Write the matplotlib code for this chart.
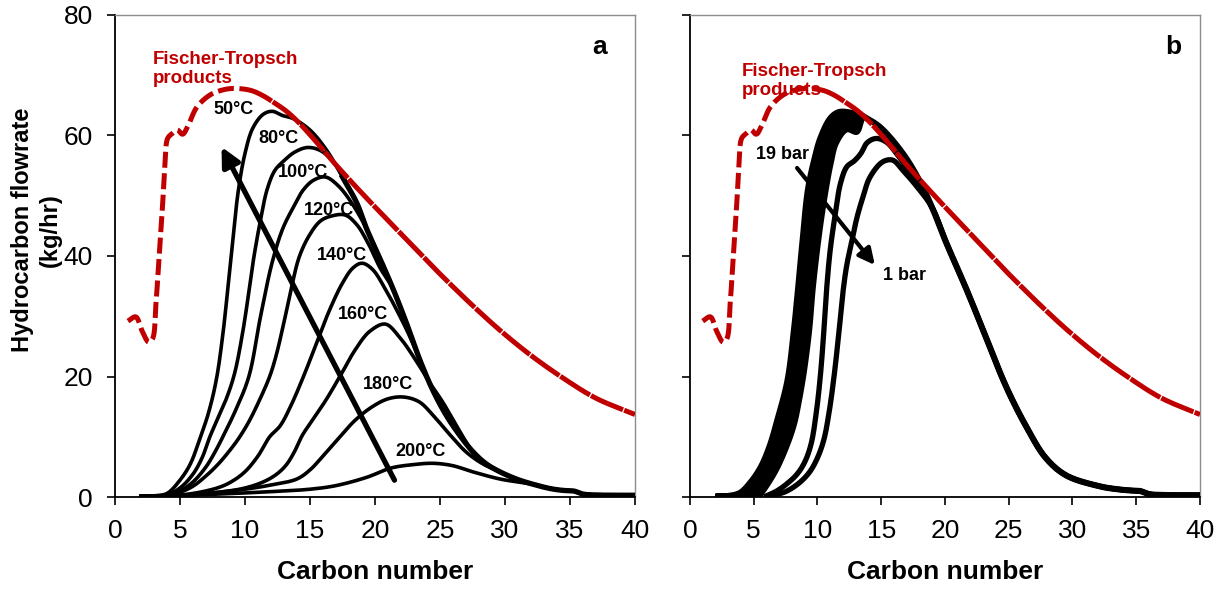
import numpy as np
import matplotlib
matplotlib.use("Agg")
import matplotlib.pyplot as plt
from matplotlib.patches import Polygon

plt.rcParams['font.family'] = ['Liberation Sans', 'DejaVu Sans']

RED = '#C00000'

# Fischer-Tropsch product curve (same in both panels)
ft_x = [1.0, 1.6, 2.1, 2.6, 2.9, 3.15, 3.4, 3.65, 3.85, 4.05, 4.4, 4.8, 5.2, 5.6,
        6.3, 7.3, 8.2, 9.1, 10.4, 11.3, 12.2, 13.2, 14.2, 15.5, 16.8, 18.1, 19.4,
        20.6, 21.9, 23.2, 24.5, 26.0, 27.5, 29.6, 32.0, 34.5, 37.0, 40.0]
ft_y = [29.2, 29.9, 27.5, 25.7, 26.3, 32.0, 40.0, 48.0, 55.0, 59.5, 60.3, 60.9, 60.2, 61.5,
        64.7, 66.7, 67.5, 67.8, 67.5, 66.7, 65.5, 64.0, 62.0, 58.9, 55.6, 52.5, 49.5,
        46.8, 43.9, 41.0, 38.1, 34.9, 31.8, 27.7, 23.5, 19.7, 16.4, 13.7]

# ---- panel a: temperature series (rising part), common falling tail ----
env_x = [17.5, 18.6, 19.4, 20.4, 21.4, 22.4, 23.5, 24.5, 25.5, 26.5, 27.5, 28.5,
         29.6, 31.0, 32.2, 33.5, 34.5, 35.3, 36.0, 37.0, 40.0]
env_y = [53.1, 48.8, 44.3, 39.5, 34.5, 29.0, 22.5, 17.5, 13.5, 10.3, 7.6, 5.6,
         4.2, 2.9, 2.1, 1.4, 1.1, 1.0, 0.5, 0.35, 0.3]

t50_x = [2, 3, 4, 5, 5.8, 6.5, 7.2, 7.8, 8.3, 8.7, 9.1, 9.5, 10, 10.6, 11.4, 12.1, 12.9, 13.7, 15, 16.3]
t50_y = [0.1, 0.2, 0.6, 2.8, 5.5, 9.5, 14, 19.5, 27, 35, 43.5, 51, 57, 61.2, 63.5, 64, 63.3, 62.8, 60.9, 57.5]
t80_x = [2, 4, 5, 6, 6.7, 7.3, 8, 8.6, 9.2, 9.8, 10.3, 10.7, 11.2, 11.7, 12.3, 13, 13.8, 14.8, 15.8, 16.8, 17.8]
t80_y = [0.1, 0.4, 1.5, 3.8, 6.5, 10, 13.5, 16.5, 20.5, 27, 34, 40, 46, 51, 54.2, 55.8, 57.2, 58, 57.5, 55.6, 52]
t100_x = [2, 4, 5, 6, 7, 7.7, 8.3, 9.3, 10.3, 11.2, 12.1, 12.9, 13.7, 14.5, 15.3, 16.2, 17.2, 18.3]
t100_y = [0.1, 0.3, 1, 2.5, 5, 7.5, 10, 14.5, 20, 30, 39, 44.5, 48, 51, 52.6, 53.1, 51.6, 48.5]
t120_x = [2, 4, 5, 6, 7, 8, 9, 9.6, 10.3, 11.1, 11.9, 12.4, 13, 13.6, 14.2, 15, 15.8, 16.6, 17.7, 18.6, 19.5, 20.4]
t120_y = [0.1, 0.3, 0.8, 1.8, 3.5, 5.6, 8.2, 10, 12.5, 16, 20, 23.5, 29, 35, 40, 43.6, 45.8, 46.6, 46.8, 45.2, 42, 38]
t140_x = [2, 4, 6, 8, 9, 10, 11, 11.9, 12.7, 13.5, 14.5, 15.5, 16.5, 17.5, 18.3, 19, 19.8, 20.8, 21.8, 22.6]
t140_y = [0.1, 0.2, 0.6, 1.6, 2.6, 4.2, 6.8, 10, 11.8, 15, 20, 25.5, 31, 35.5, 38, 38.8, 37.8, 34.5, 30.5, 27]
t160_x = [2, 4, 6, 8, 10, 11.5, 12.5, 13.2, 13.8, 14.4, 15.2, 16.2, 17.3, 18.5, 19.6, 20.8, 21.9, 23.2, 24.2, 25.2, 26.5]
t160_y = [0.1, 0.2, 0.4, 0.8, 1.5, 2.6, 3.9, 5.4, 7.5, 10.2, 12.8, 16, 20, 24.5, 27.5, 28.7, 26.5, 22.5, 19, 15.8, 11]
t180_x = [2, 4, 6, 8, 10, 12, 14, 15, 16, 17.3, 18.5, 19.8, 21, 22.2, 23.4, 24.5, 25.7, 27, 28.3]
t180_y = [0.1, 0.2, 0.4, 0.8, 1.3, 2.0, 3.0, 4.5, 6.8, 10, 12.8, 15, 16.3, 16.6, 15.8, 13.5, 10.5, 7.5, 5.5]
t200_x = [2, 4, 8, 12, 15, 17, 19.4, 21.2, 23, 24.5, 26, 27.5, 29.6, 31]
t200_y = [0.1, 0.2, 0.5, 0.9, 1.3, 1.9, 3.3, 4.8, 5.4, 5.6, 5.2, 4.2, 3.0, 2.5]

temp_curves = [(t50_x, t50_y), (t80_x, t80_y), (t100_x, t100_y), (t120_x, t120_y),
               (t140_x, t140_y), (t160_x, t160_y), (t180_x, t180_y), (t200_x, t200_y)]
temp_labels = ['50°C', '80°C', '100°C', '120°C', '140°C', '160°C', '180°C', '200°C']
temp_label_x = [9.1, 12.6, 14.5, 16.5, 17.5, 19.1, 21.0, 23.5]
temp_label_y = [64.3, 59.5, 53.9, 47.6, 40.0, 30.3, 18.6, 7.5]

# ---- panel b: pressure series ----
band_out_x = [2, 3, 3.9, 4.7, 5.5, 6.2, 6.8, 7.6, 8.1, 8.4, 8.8, 9.2, 9.7, 10.2, 11, 11.7, 12.8, 13.5]
band_out_y = [0.2, 0.3, 0.8, 2.5, 5, 8.5, 12.8, 19.4, 27.7, 34, 43, 51, 56, 59.7, 63, 64, 63.8, 63.3]
band_in_x = [5.5, 6, 6.8, 7.6, 8.2, 8.6, 9.0, 9.4, 9.7, 10.2, 10.7, 11.1, 11.5, 12.3, 13.1, 13.5]
band_in_y = [0.2, 1.7, 4.5, 8.3, 12, 16, 21, 27.7, 35, 44, 51, 55.5, 58.7, 60.9, 60.5, 62.5]
p2_x = [6, 6.8, 7.6, 8.4, 9.0, 9.5, 9.9, 10.2, 10.45, 10.7, 11.0, 11.4, 11.8, 12.3, 12.9,
        13.4, 13.9, 14.6, 15.4, 16.2, 17.2]
p2_y = [0.2, 1.0, 2.2, 3.8, 5.8, 8.8, 13.9, 19.5, 26, 34, 41, 47, 52, 54.8, 55.8,
        57, 58.8, 59.5, 58.9, 57, 54.0]
p1_x = [6.5, 7.6, 8.6, 9.4, 10.0, 10.5, 10.9, 11.3, 11.7, 12.0, 12.3, 12.7, 13.1, 13.6,
        14.1, 15.1, 15.9, 16.7, 17.8]
p1_y = [0.2, 1.0, 2.4, 4.2, 6.5, 9.5, 13.9, 20, 27.7, 34, 38.5, 42.5, 46.4, 50,
        53, 55.6, 55.9, 54.2, 51.5]
tail_x = [13.5, 14.9, 16.7, 18.0, 19.0, 20.1, 21.7, 23.2, 24.8, 26.4, 27.9, 29.5,
          32.1, 33.5, 34.5, 35.3, 36.0, 37.0, 40.0]
tail_y = [63.3, 61.4, 57.0, 52.5, 48.0, 42.2, 34.4, 26.6, 18.3, 11.6, 6.5, 3.6,
          1.8, 1.3, 1.1, 1.0, 0.5, 0.35, 0.3]

arrow_a = [(21.5, 2.8), (8.2, 58.1)]
arrow_b = [(8.4, 54.6), (14.5, 38.5)]


def join(x, y, tx, ty, gap=0.6):
    # add the shared falling tail after the last point of a curve
    xs = list(x) + [a for a in tx if a > x[-1] + gap]
    ys = list(y) + [b for a, b in zip(tx, ty) if a > x[-1] + gap]
    return xs, ys


def smooth(x, y, n=16):
    # centripetal Catmull-Rom, like Excel's "smoothed line" option
    P = np.column_stack([x, y]).astype(float)
    sc = np.array([13.0, 6.0])  # roughly pixel-isotropic units
    P = P * sc
    P = np.vstack([2 * P[0] - P[1], P, 2 * P[-1] - P[-2]])
    out = []
    for i in range(1, len(P) - 2):
        p0, p1, p2, p3 = P[i - 1], P[i], P[i + 1], P[i + 2]
        t0 = 0.0
        t1 = t0 + np.linalg.norm(p1 - p0) ** 0.5 + 1e-9
        t2 = t1 + np.linalg.norm(p2 - p1) ** 0.5 + 1e-9
        t3 = t2 + np.linalg.norm(p3 - p2) ** 0.5 + 1e-9
        t = np.linspace(t1, t2, n, endpoint=False)[:, None]
        a1 = (t1 - t) / (t1 - t0) * p0 + (t - t0) / (t1 - t0) * p1
        a2 = (t2 - t) / (t2 - t1) * p1 + (t - t1) / (t2 - t1) * p2
        a3 = (t3 - t) / (t3 - t2) * p2 + (t - t2) / (t3 - t2) * p3
        b1 = (t2 - t) / (t2 - t0) * a1 + (t - t0) / (t2 - t0) * a2
        b2 = (t3 - t) / (t3 - t1) * a2 + (t - t1) / (t3 - t1) * a3
        out.append((t2 - t) / (t2 - t1) * b1 + (t - t1) / (t2 - t1) * b2)
    out.append(P[-2][None, :])
    S = np.vstack(out) / sc
    return S[:, 0], S[:, 1]


def draw_ft(ax, label_xy):
    sx, sy = smooth(ft_x, ft_y)
    cut = np.searchsorted(sx, 9.5)
    ax.plot(sx[:cut + 1], sy[:cut + 1], color=RED, lw=3.6,
            linestyle=(0, (3.2, 1.1)), zorder=4)
    ax.plot(sx[cut:], sy[cut:], color=RED, lw=3.6,
            linestyle=(0, (7.0, 0.25)), zorder=4)
    ax.text(label_xy[0], label_xy[1], 'Fischer-Tropsch\nproducts', color=RED,
            fontsize=13.5, fontweight='bold', va='center', ha='left', linespacing=1.15)


def style(ax, show_y):
    ax.set_xlim(0, 40)
    ax.set_ylim(0, 80)
    ax.set_xticks(range(0, 41, 5))
    ax.set_yticks(range(0, 81, 20))
    ax.tick_params(direction='out', length=6, width=1.2, labelsize=19, pad=10)
    if not show_y:
        ax.tick_params(axis='y', labelleft=False)
    for s in ['left', 'bottom']:
        ax.spines[s].set_color('black')
        ax.spines[s].set_linewidth(1.3)
    for s in ['top', 'right']:
        ax.spines[s].set_color('#8c8c8c')
        ax.spines[s].set_linewidth(1.0)
    ax.set_xlabel('Carbon number', fontsize=19, fontweight='bold', labelpad=12)


fig = plt.figure(figsize=(12.19, 5.96), dpi=100)
ax1 = fig.add_axes([0.0943, 0.166, 0.4266, 0.809])
ax2 = fig.add_axes([0.566, 0.166, 0.4184, 0.809])

# panel a
draw_ft(ax1, (2.9, 71.0))
for (cx, cy) in temp_curves:
    xs, ys = join(cx, cy, env_x, env_y)
    ax1.plot(*smooth(xs, ys), color='black', lw=2.6, zorder=3)
ax1.plot(*smooth(env_x, env_y), color='black', lw=3.8, zorder=3)
for lab, lx, ly in zip(temp_labels, temp_label_x, temp_label_y):
    ax1.text(lx, ly, lab, fontsize=13, fontweight='bold', ha='center', va='center', zorder=6)
ax1.annotate('', xy=arrow_a[1], xytext=arrow_a[0],
             arrowprops=dict(arrowstyle='-|>', lw=3.8, color='black', mutation_scale=28,
                             shrinkA=0, shrinkB=0), zorder=5)
ax1.text(37.3, 74.6, 'a', fontsize=19, fontweight='bold', ha='center', va='center')
style(ax1, True)

# panel b
draw_ft(ax2, (4.07, 69.1))
ox, oy = smooth(band_out_x, band_out_y)
ix, iy = smooth(band_in_x, band_in_y)
band = Polygon(np.column_stack([np.r_[ox, ix[::-1]], np.r_[oy, iy[::-1]]]),
               closed=True, facecolor='black', edgecolor='black', lw=3.4, zorder=3)
ax2.add_patch(band)
for (cx, cy) in [(p2_x, p2_y), (p1_x, p1_y)]:
    xs, ys = join(cx, cy, tail_x, tail_y, gap=0.9)
    ax2.plot(*smooth(xs, ys), color='black', lw=3.8, zorder=3)
ax2.plot(*smooth(tail_x, tail_y), color='black', lw=4.4, zorder=3)
ax2.annotate('', xy=arrow_b[1], xytext=arrow_b[0],
             arrowprops=dict(arrowstyle='-|>', lw=3.0, color='black', mutation_scale=24,
                             shrinkA=0, shrinkB=0), zorder=5)
ax2.text(7.24, 56.9, '19 bar', fontsize=13, fontweight='bold', ha='center', va='center', zorder=6)
ax2.text(16.8, 36.8, '1 bar', fontsize=13, fontweight='bold', ha='center', va='center', zorder=6)
ax2.text(37.9, 74.6, 'b', fontsize=19, fontweight='bold', ha='center', va='center')
style(ax2, False)

fig.text(0.03, 1 - 230 / 596, 'Hydrocarbon flowrate\n(kg/hr)', rotation=90, fontsize=17,
         fontweight='bold', ha='center', va='center', linespacing=1.25)

fig.savefig('out.png', dpi=100)
